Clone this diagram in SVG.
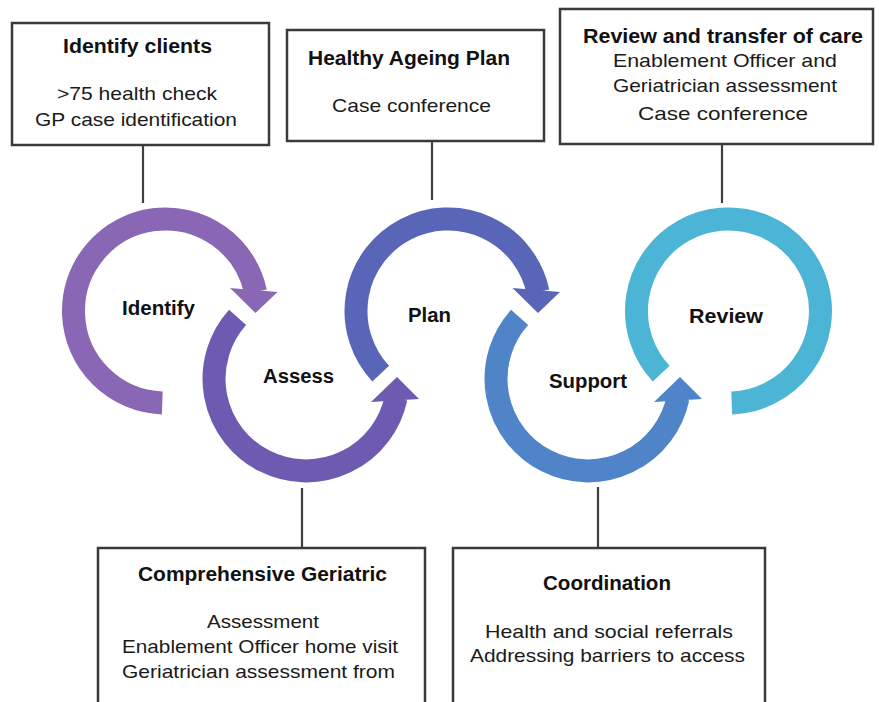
<svg xmlns="http://www.w3.org/2000/svg" width="879" height="702" viewBox="0 0 879 702">
<style>
.box{fill:#fff;stroke:#3a3a3a;stroke-width:2.5}
.conn{stroke:#3f3f3f;stroke-width:2.2;fill:none}
.ring{fill:none;stroke-width:23;stroke-linecap:butt}
.t{font-family:"Liberation Sans",Arial,sans-serif;font-size:19px;fill:#1a1a1a;text-anchor:middle}
.b{font-weight:bold;font-size:20px;fill:#111}
</style>
<rect width="879" height="702" fill="#fff"/>
<g id="connectors">
<line class="conn" x1="143" y1="145" x2="143" y2="203"/>
<line class="conn" x1="432" y1="141" x2="432" y2="200"/>
<line class="conn" x1="722" y1="144" x2="722" y2="203"/>
<line class="conn" x1="302" y1="488" x2="302" y2="548"/>
<line class="conn" x1="598" y1="487" x2="598" y2="548"/>
</g>
<g id="cycle-identify">
<path class="ring" stroke="#8A67B4" d="M162.3,402.9 A92,92 0 1 1 255.5,291.9"/>
<polygon fill="#8A67B4" points="230,288 255.5,313 277.5,292"/>
<text class="t b" x="158.5" y="315" textLength="73" lengthAdjust="spacingAndGlyphs">Identify</text>
</g>
<g id="cycle-assess">
<path class="ring" stroke="#6E5BB1" d="M237.6,317.4 A92,92 0 1 0 396,398.1"/>
<polygon fill="#6E5BB1" points="371,402 397,377 419,399"/>
<text class="t b" x="298.5" y="383" textLength="71" lengthAdjust="spacingAndGlyphs">Assess</text>
</g>
<g id="cycle-plan">
<path class="ring" stroke="#5966B8" d="M380.7,373.7 A92,92 0 1 1 538,291.9"/>
<polygon fill="#5966B8" points="512.5,288 538,313 560,292"/>
<text class="t b" x="429.5" y="322" textLength="43" lengthAdjust="spacingAndGlyphs">Plan</text>
</g>
<g id="cycle-support">
<path class="ring" stroke="#4F85C8" d="M519.6,317.4 A92,92 0 1 0 678,398.1"/>
<polygon fill="#4F85C8" points="654,402 680,377 702,399"/>
<text class="t b" x="588" y="388" textLength="78" lengthAdjust="spacingAndGlyphs">Support</text>
</g>
<g id="cycle-review">
<path class="ring" stroke="#4CB5D5" d="M661.2,373.7 A92,92 0 1 1 731.7,402.9"/>
<text class="t b" x="726" y="323" textLength="74" lengthAdjust="spacingAndGlyphs">Review</text>
</g>
<g id="box-identify-clients">
<rect class="box" x="12" y="23" width="257" height="122"/>
<text class="t b" x="137.5" y="53" textLength="149" lengthAdjust="spacingAndGlyphs">Identify clients</text>
<text class="t" x="137" y="100" textLength="160" lengthAdjust="spacingAndGlyphs">&gt;75 health check</text>
<text class="t" x="136" y="126" textLength="202" lengthAdjust="spacingAndGlyphs">GP case identification</text>
</g>
<g id="box-healthy-ageing-plan">
<rect class="box" x="287" y="30" width="257" height="111"/>
<text class="t b" x="409" y="65" textLength="202" lengthAdjust="spacingAndGlyphs">Healthy Ageing Plan</text>
<text class="t" x="411.5" y="112" textLength="159" lengthAdjust="spacingAndGlyphs">Case conference</text>
</g>
<g id="box-review-transfer">
<rect class="box" x="560" y="9" width="313" height="135"/>
<text class="t b" x="723" y="43" textLength="280" lengthAdjust="spacingAndGlyphs">Review and transfer of care</text>
<text class="t" x="725" y="67" textLength="224" lengthAdjust="spacingAndGlyphs">Enablement Officer and</text>
<text class="t" x="725" y="92" textLength="224" lengthAdjust="spacingAndGlyphs">Geriatrician assessment</text>
<text class="t" x="723" y="120" textLength="170" lengthAdjust="spacingAndGlyphs">Case conference</text>
</g>
<g id="box-comprehensive-geriatric">
<rect class="box" x="98" y="548" width="327" height="170"/>
<text class="t b" x="262.5" y="581" textLength="249" lengthAdjust="spacingAndGlyphs">Comprehensive Geriatric</text>
<text class="t" x="263" y="628" textLength="112" lengthAdjust="spacingAndGlyphs">Assessment</text>
<text class="t" x="260" y="653" textLength="276" lengthAdjust="spacingAndGlyphs">Enablement Officer home visit</text>
<text class="t" x="258.5" y="678" textLength="273" lengthAdjust="spacingAndGlyphs">Geriatrician assessment from</text>
</g>
<g id="box-coordination">
<rect class="box" x="453" y="548" width="312" height="170"/>
<text class="t b" x="607" y="590" textLength="128" lengthAdjust="spacingAndGlyphs">Coordination</text>
<text class="t" x="609" y="638" textLength="248" lengthAdjust="spacingAndGlyphs">Health and social referrals</text>
<text class="t" x="607.5" y="662" textLength="275" lengthAdjust="spacingAndGlyphs">Addressing barriers to access</text>
</g>
</svg>
